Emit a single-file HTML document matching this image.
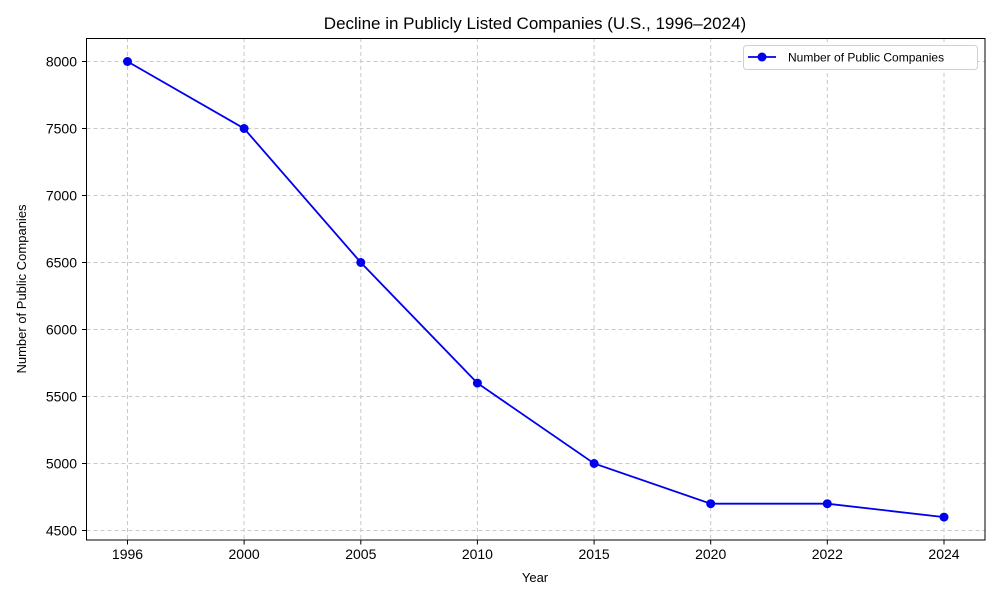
<!DOCTYPE html>
<html><head><meta charset="utf-8"><style>body{margin:0;background:#fff}svg{display:block}text{font-family:"Liberation Sans",sans-serif;fill:#000}</style></head><body>
<svg width="1000" height="600" viewBox="0 0 1000 600">
<rect width="1000" height="600" fill="#fff"/>
<g stroke="#c8c8c8" stroke-width="1" stroke-dasharray="4,3">
<line x1="127.5" y1="38" x2="127.5" y2="540"/><line x1="244.1" y1="38" x2="244.1" y2="540"/><line x1="360.8" y1="38" x2="360.8" y2="540"/><line x1="477.4" y1="38" x2="477.4" y2="540"/><line x1="594.1" y1="38" x2="594.1" y2="540"/><line x1="710.7" y1="38" x2="710.7" y2="540"/><line x1="827.3" y1="38" x2="827.3" y2="540"/><line x1="944" y1="38" x2="944" y2="540"/>
<line x1="86.5" y1="61.5" x2="985" y2="61.5"/><line x1="86.5" y1="128.5" x2="985" y2="128.5"/><line x1="86.5" y1="195.5" x2="985" y2="195.5"/><line x1="86.5" y1="262.5" x2="985" y2="262.5"/><line x1="86.5" y1="329.5" x2="985" y2="329.5"/><line x1="86.5" y1="396.5" x2="985" y2="396.5"/><line x1="86.5" y1="463.5" x2="985" y2="463.5"/><line x1="86.5" y1="530.5" x2="985" y2="530.5"/>
</g>
<rect x="86.5" y="38.5" width="898.5" height="501.5" fill="none" stroke="#000" stroke-width="1"/>
<g stroke="#000"><line x1="82" y1="61.5" x2="86.5" y2="61.5"/><line x1="82" y1="128.5" x2="86.5" y2="128.5"/><line x1="82" y1="195.5" x2="86.5" y2="195.5"/><line x1="82" y1="262.5" x2="86.5" y2="262.5"/><line x1="82" y1="329.5" x2="86.5" y2="329.5"/><line x1="82" y1="396.5" x2="86.5" y2="396.5"/><line x1="82" y1="463.5" x2="86.5" y2="463.5"/><line x1="82" y1="530.5" x2="86.5" y2="530.5"/>
<line x1="127.5" y1="540" x2="127.5" y2="544.5"/><line x1="244.1" y1="540" x2="244.1" y2="544.5"/><line x1="360.8" y1="540" x2="360.8" y2="544.5"/><line x1="477.4" y1="540" x2="477.4" y2="544.5"/><line x1="594.1" y1="540" x2="594.1" y2="544.5"/><line x1="710.7" y1="540" x2="710.7" y2="544.5"/><line x1="827.3" y1="540" x2="827.3" y2="544.5"/><line x1="944" y1="540" x2="944" y2="544.5"/></g>
<g font-size="14" text-anchor="end"><text x="77" y="66.5">8000</text><text x="77" y="133.5">7500</text><text x="77" y="200.5">7000</text><text x="77" y="267.5">6500</text><text x="77" y="334.5">6000</text><text x="77" y="401.5">5500</text><text x="77" y="468.5">5000</text><text x="77" y="535.5">4500</text></g>
<g font-size="14" text-anchor="middle"><text x="127.5" y="559">1996</text><text x="244.1" y="559">2000</text><text x="360.8" y="559">2005</text><text x="477.4" y="559">2010</text><text x="594.1" y="559">2015</text><text x="710.7" y="559">2020</text><text x="827.3" y="559">2022</text><text x="944" y="559">2024</text></g>
<text x="535" y="582" font-size="13" text-anchor="middle">Year</text>
<text transform="translate(26,289) rotate(-90)" font-size="13" text-anchor="middle">Number of Public Companies</text>
<text x="535" y="29" font-size="17" text-anchor="middle">Decline in Publicly Listed Companies (U.S., 1996–2024)</text>
<polyline fill="none" stroke="#0000ee" stroke-width="1.8" points="127.5,61.5 244.1,128.5 360.8,262.5 477.4,383.1 594.1,463.5 710.7,503.7 827.3,503.7 944,517.1"/>
<g fill="#0000ee"><circle cx="127.5" cy="61.5" r="4.5"/><circle cx="244.1" cy="128.5" r="4.5"/><circle cx="360.8" cy="262.5" r="4.5"/><circle cx="477.4" cy="383.1" r="4.5"/><circle cx="594.1" cy="463.5" r="4.5"/><circle cx="710.7" cy="503.7" r="4.5"/><circle cx="827.3" cy="503.7" r="4.5"/><circle cx="944" cy="517.1" r="4.5"/></g>
<rect x="743.5" y="45.5" width="234" height="24" rx="3" fill="#fff" stroke="#d0d0d0"/>
<line x1="748" y1="57" x2="776" y2="57" stroke="#0000ee" stroke-width="1.8"/><circle cx="762" cy="57" r="4.5" fill="#0000ee"/>
<text x="788" y="61.5" font-size="12">Number of Public Companies</text>
</svg>
</body></html>
